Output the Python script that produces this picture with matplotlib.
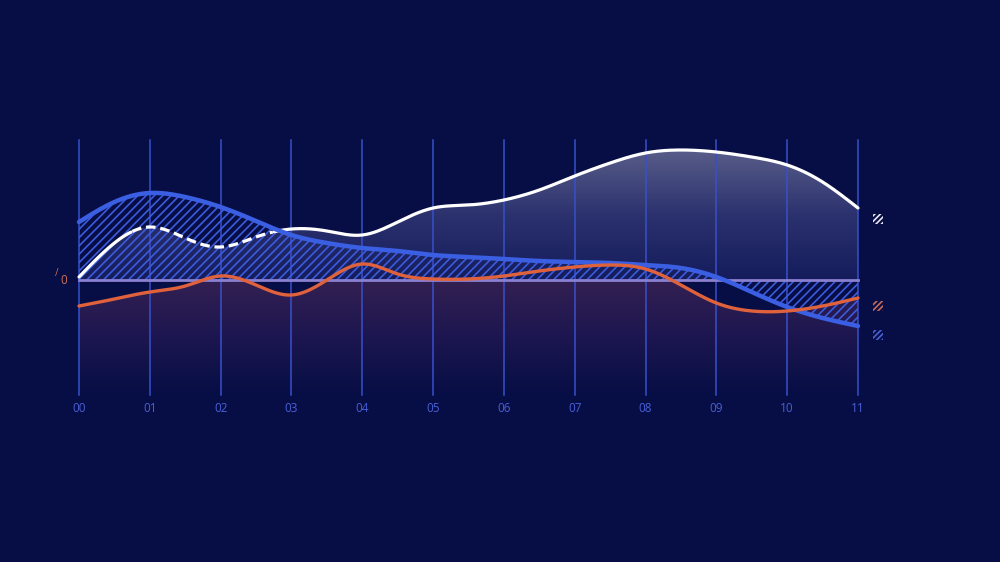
import numpy as np
import matplotlib
matplotlib.use('Agg')
import matplotlib.pyplot as plt
from matplotlib.colors import LinearSegmentedColormap
from matplotlib.patches import Polygon, Rectangle

# data (arbitrary units, 0 = baseline)
hours = ['00', '01', '02', '03', '04', '05', '06', '07', '08', '09', '10', '11']
x_pts = [0, 0.5, 1, 1.5, 2, 2.5, 3, 3.5, 4, 4.5, 5, 5.5,
         6, 6.5, 7, 7.5, 8, 8.5, 9, 9.5, 10, 10.5, 11]
white_vals = [0.3, 3.7, 5.3, 4.2, 3.3, 4.3, 5.1, 4.9, 4.5, 5.8, 7.2, 7.5,
              8.0, 9.0, 10.4, 11.7, 12.7, 13.0, 12.8, 12.3, 11.5, 9.8, 7.2]
blue_vals = [5.8, 7.8, 8.7, 8.3, 7.3, 5.9, 4.5, 3.7, 3.2, 2.9, 2.5, 2.3,
             2.1, 1.9, 1.8, 1.7, 1.5, 1.2, 0.3, -1.2, -2.7, -3.8, -4.6]
orange_vals = [-2.6, -1.9, -1.2, -0.6, 0.4, -0.5, -1.5, 0.0, 1.6, 0.6, 0.1, 0.1,
               0.4, 0.9, 1.3, 1.5, 1.1, -0.5, -2.3, -3.1, -3.1, -2.6, -1.8]

BG = '#070e45'


# natural cubic spline, only for drawing smooth curves through the read points
def smooth(x, y, xs):
    x = np.asarray(x, float)
    y = np.asarray(y, float)
    n = len(x)
    h = np.diff(x)
    A = np.zeros((n, n))
    r = np.zeros(n)
    A[0, 0] = A[-1, -1] = 1
    for i in range(1, n - 1):
        A[i, i - 1] = h[i - 1]
        A[i, i] = 2 * (h[i - 1] + h[i])
        A[i, i + 1] = h[i]
        r[i] = 6 * ((y[i + 1] - y[i]) / h[i] - (y[i] - y[i - 1]) / h[i - 1])
    M = np.linalg.solve(A, r)
    k = np.clip(np.searchsorted(x, xs) - 1, 0, n - 2)
    t0 = xs - x[k]
    t1 = x[k + 1] - xs
    hk = h[k]
    return (M[k] * t1**3 / (6 * hk) + M[k + 1] * t0**3 / (6 * hk)
            + (y[k] / hk - M[k] * hk / 6) * t1
            + (y[k + 1] / hk - M[k + 1] * hk / 6) * t0)


xs = np.linspace(0, 11, 600)
white = smooth(x_pts, white_vals, xs)
blue = smooth(x_pts, blue_vals, xs)
orange = smooth(x_pts, orange_vals, xs)

fig = plt.figure(figsize=(10, 5.62), dpi=100, facecolor=BG)
ax = fig.add_axes([0, 0, 1, 1])
ax.set_facecolor(BG)
ax.axis('off')

px = 779 / 11.0
xlim = (-79 / px, 921 / px)
ylim = (-28.2, 28.0)

# gradient under the white curve
cm_top = LinearSegmentedColormap.from_list('t', ['#151c5c', '#2c326e', '#5a5e8a'])
grad = np.linspace(0, 1, 256).reshape(-1, 1)
poly_w = Polygon(np.column_stack([np.r_[xs, xs[::-1]], np.r_[white, np.zeros_like(xs)]]),
                 closed=True, facecolor='none', edgecolor='none')
ax.add_patch(poly_w)
im = ax.imshow(grad, extent=[0, 11, 0, 13.2], origin='lower', aspect='auto',
               cmap=cm_top, zorder=1)
im.set_clip_path(poly_w)

# reddish gradient below the baseline
cm_bot = LinearSegmentedColormap.from_list('b', [BG, '#1c1650', '#332052'])
poly_o = Polygon(np.column_stack([np.r_[xs, 11, 0], np.r_[np.minimum(orange, 0), -11.5, -11.5]]),
                 closed=True, facecolor='none', edgecolor='none')
ax.add_patch(poly_o)
im2 = ax.imshow(grad, extent=[0, 11, -11.5, 0], origin='lower', aspect='auto',
                cmap=cm_bot, zorder=1)
im2.set_clip_path(poly_o)

# vertical grid
for i in range(len(hours)):
    ax.plot([i, i], [-11.5, 14], color='#3850cc', lw=1.1, zorder=2)
    ax.text(i, -12.8, hours[i], color='#4a5fd6', fontsize=8.5, ha='center', va='center',
            family='Open Sans')

# hatched blue band
plt.rcParams['hatch.linewidth'] = 1.2
ax.fill_between(xs, blue, 0, facecolor='none', edgecolor='#3c5cdc', hatch='////',
                linewidth=0, zorder=3)

# baseline
ax.plot([0, 11], [0, 0], color='#8a80d0', lw=2, zorder=4)

# white line: solid, dashed segment, solid
m1 = xs <= 0.75
m2 = (xs >= 0.75) & (xs <= 2.75)
m3 = xs >= 2.75
ax.plot(xs[m1], white[m1], color='white', lw=2.3, zorder=5, solid_capstyle='round')
ax.plot(xs[m2], white[m2], color='white', lw=2.3, zorder=5, dashes=(3, 1.5))
ax.plot(xs[m3], white[m3], color='white', lw=2.3, zorder=5, solid_capstyle='round')

ax.plot(xs, blue, color='#3b5fe2', lw=3.2, zorder=6, solid_capstyle='round')
ax.plot(xs, orange, color='#e0623c', lw=2.4, zorder=7, solid_capstyle='round')

# zero label
ax.text(-0.22, 0.0, '0', color='#d06e58', fontsize=8.5, ha='center', va='center',
        family='Open Sans')
ax.text(-0.32, 0.7, '/', color='#d06e58', fontsize=7, ha='center', va='center',
        family='Open Sans')

# small hatched legend squares
for yb, c in [(5.6, '#e8e8f2'), (-3.1, '#c66a5c'), (-6.0, '#4a62d8')]:
    ax.add_patch(Rectangle((11.21, yb), 0.14, 1.0, facecolor='none', edgecolor=c,
                           hatch='//////', linewidth=0, zorder=5))

ax.set_xlim(*xlim)
ax.set_ylim(*ylim)

fig.savefig('out.png', dpi=100, facecolor=BG)
